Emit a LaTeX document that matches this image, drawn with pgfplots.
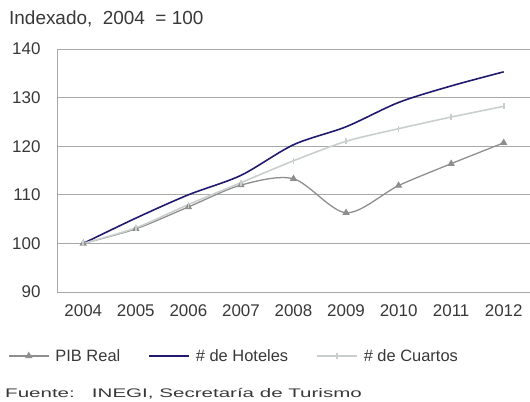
\documentclass[border=0pt]{standalone}
\usepackage{fontspec}
\setmainfont{Liberation Sans}
\usepackage{pgfplots}
\pgfplotsset{compat=1.18}
\definecolor{navyline}{HTML}{201A6E}
\definecolor{pibgray}{HTML}{8E8E8E}
\definecolor{cuartos}{HTML}{C9CFCC}
\definecolor{gridgray}{HTML}{A8A8A8}
\definecolor{txt}{HTML}{383838}
\begin{document}
\begin{tikzpicture}
\node[anchor=west,font=\fontsize{19}{21}\selectfont,text=txt,inner sep=0] at (9bp,383bp) {Indexado,\ \ 2004 \ = 100};
\node[anchor=west,font=\fontsize{12.5}{14}\selectfont,text=txt,inner sep=0] at (5bp,8bp)
  {\scalebox{1.65}[1]{Fuente:\ \ \ INEGI, Secretaría de Turismo}};
\begin{axis}[
  at={(57bp,110bp)}, anchor=south west,
  scale only axis, width=473bp, height=243bp,
  xmin=-0.5, xmax=8.5, ymin=90, ymax=140,
  xtick={0,...,8},
  xticklabels={2004,2005,2006,2007,2008,2009,2010,2011,2012},
  ytick={90,100,...,140},
  ymajorgrids, grid style={gridgray, line width=0.9pt},
  axis x line*=bottom, axis y line*=left,
  axis line style={-, gridgray, line width=0.9pt},
  major tick length=0pt,
  tick label style={font=\fontsize{17}{19}\selectfont, text=txt},
  /pgf/number format/assume math mode=true,
  xticklabel style={yshift=-9bp},
  yticklabel style={xshift=-13bp},
  legend columns=3,
  legend style={at={(-0.11,-0.263)}, anchor=west, draw=none, fill=none,
    font=\fontsize{16.5}{18}\selectfont, text=txt,
    /tikz/every odd column/.append style={column sep=4bp},
    /tikz/every even column/.append style={column sep=26bp}},
  legend image code/.code={\draw[mark repeat=2,mark phase=2,#1]
    plot coordinates {(0bp,0bp) (20bp,0bp) (40bp,0bp)};},
]
\addplot[pibgray, line width=1.3pt, smooth, mark=triangle*, mark size=3pt,
  mark options={fill=pibgray}] coordinates {
  (0,100) (1,103) (2,107.5) (3,112) (4,113.3) (5,106.3) (6,111.9) (7,116.4) (8,120.7)};
\addlegendentry{PIB Real}
\addplot[navyline, line width=1.6pt, smooth] coordinates {
  (0,100) (1,105.2) (2,110) (3,114) (4,120.3) (5,124) (6,129) (7,132.4) (8,135.3)};
\addlegendentry{\# de Hoteles}
\addplot[cuartos, line width=1.6pt, smooth, mark=|, mark size=3pt] coordinates {
  (0,100) (1,103.2) (2,108) (3,112.5) (4,117) (5,121) (6,123.6) (7,126) (8,128.2)};
\addlegendentry{\# de Cuartos}
\end{axis}
\pgfresetboundingbox
\useasboundingbox (0bp,0bp) rectangle (530bp,402bp);
\end{tikzpicture}
\end{document}
